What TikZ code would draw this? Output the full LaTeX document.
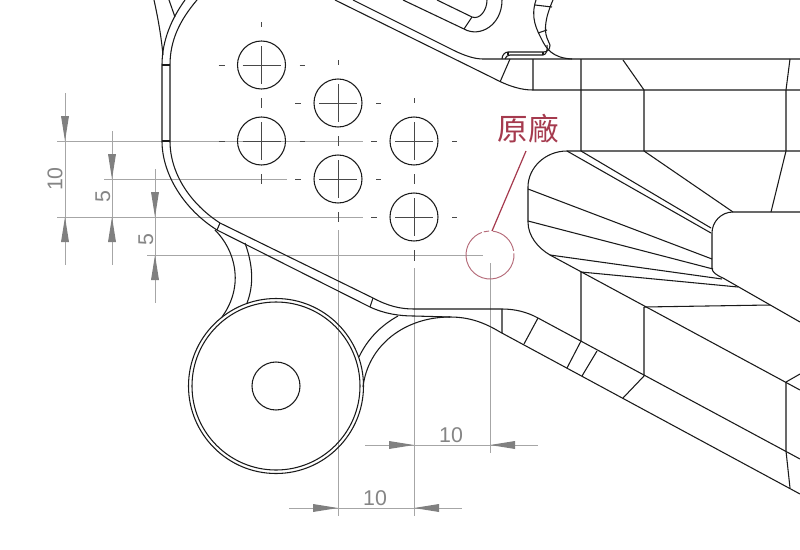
\documentclass[tikz,border=0pt]{standalone}
\usepackage{fontspec}
\setmainfont{Liberation Sans}
\newfontfamily\cjk{Noto Sans CJK TC}
\definecolor{dimline}{HTML}{A6A6A6}
\definecolor{dimfill}{HTML}{808080}
\definecolor{dimtext}{HTML}{858585}
\definecolor{redtext}{HTML}{A53A4E}
\definecolor{redthin}{HTML}{B56A78}
\definecolor{ink}{HTML}{1A1A1A}
\tikzset{
  part/.style={draw=ink,line width=0.8pt,line join=round},
  centre/.style={draw=ink!80,line width=0.55pt},
  extline/.style={draw=dimline,line width=0.75pt},
  head/.style={fill=dimfill,draw=none},
  dimlabel/.style={text=dimtext,font=\fontsize{16}{16}\selectfont,inner sep=0pt},
}
\newcommand{\holeat}[2]{%
  \draw[part] (#1,#2) circle [radius=24];
  \draw[centre] (#1-19,#2) -- (#1+19,#2) (#1,#2-19) -- (#1,#2+19);
  \draw[centre] (#1-43,#2) -- (#1-37,#2) (#1+38,#2) -- (#1+43,#2)
                (#1,#2-43) -- (#1,#2-38) (#1,#2+33) -- (#1,#2+43);
}
\newcommand{\headdown}[2]{\fill[head] (#1-4,#2-25) -- (#1+4,#2-25) -- (#1,#2) -- cycle;}
\newcommand{\headup}[2]{\fill[head] (#1-4,#2+25) -- (#1+4,#2+25) -- (#1,#2) -- cycle;}
\newcommand{\headright}[2]{\fill[head] (#1-25,#2-4) -- (#1-25,#2+4) -- (#1,#2) -- cycle;}
\newcommand{\headleft}[2]{\fill[head] (#1+25,#2-4) -- (#1+25,#2+4) -- (#1,#2) -- cycle;}
\begin{document}
\begin{tikzpicture}[x=0.75pt,y=-0.75pt]
\useasboundingbox (0,0) rectangle (800,550);
\clip (0,0) rectangle (800,550);
\fill[white] (0,0) rectangle (800,550);

% dimension and extension lines
\draw[extline] (57,141) -- (363,141) (57,217) -- (363,217) (104,179) -- (287,179) (147,255) -- (483,255);
\draw[extline] (338,230) -- (338,516) (414,268) -- (414,516) (490,263) -- (490,453);
\draw[extline] (65,93) -- (65,265) (112,131) -- (112,265) (155,169) -- (155,303);
\draw[extline] (365,445) -- (538,445) (289,508) -- (462,508);
\headdown{65}{141} \headup{65}{217}
\headdown{112}{179} \headup{112}{217}
\headdown{155}{217} \headup{155}{255}
\headright{414}{445} \headleft{490}{445}
\headright{338}{508} \headleft{414}{508}
\node[dimlabel,rotate=90] (d1) at (55,179) {10};
\node[dimlabel,rotate=90] (d2) at (103,197) {5};
\node[dimlabel,rotate=90] (d3) at (146,240) {5};
\node[dimlabel] (d4) at (451,435) {10};
\node[dimlabel] (d5) at (375,498) {10};

% holes
\holeat{261.5}{65} \holeat{338}{103} \holeat{261.5}{141}
\holeat{338}{179} \holeat{414}{141} \holeat{414}{217}
\draw[centre] (338,217) -- (338,222) (414,257) -- (414,261);

% boss
\draw[part] (276,386) circle [radius=87.5] (276,386) circle [radius=84] (276,386) circle [radius=24];

% left rail
\draw[part] (162,141) -- (162,65) .. controls (162,40) and (172,18) .. (185,0);
\draw[part] (170,141) -- (170,65) .. controls (170,40) and (180,20) .. (197,0);
\draw[part] (162,65) -- (170,65) (162,141) -- (170,141);
\draw[part] (154,0) .. controls (158,18) and (161,35) .. (163,55);
\draw[part] (169,0) -- (175,17);
\draw[part] (162,141) .. controls (162,175) and (185,210) .. (217,230) -- (370,307)
   .. controls (385,314) and (400,316) .. (414,316) -- (450,317)
   .. controls (470,317) and (485,323) .. (500,332) -- (800,494);
\draw[part] (170,141) .. controls (170,175) and (192,205) .. (220,223) -- (373,298)
   .. controls (388,306) and (400,309) .. (414,309) -- (502,309)
   .. controls (515,309) and (527,312) .. (538,318) -- (800,459);
\draw[part] (220,223) -- (217,230) (373,298) -- (370,307);
\draw[part] (363,387) .. controls (368,345) and (405,317) .. (450,317);
\draw[part] (398,316) .. controls (380,326) and (367,340) .. (359,357);
\draw[part] (215,230) .. controls (235,250) and (245,285) .. (222,317);
\draw[part] (245,243) .. controls (253,265) and (254,285) .. (247,303);

% lower ticks
\draw[part] (502,309) -- (502,333) (538,318) -- (524,344) (581,341) -- (567,368)
  (597,351) -- (582,376) (644,376) -- (623,398);
\draw[part] (581,272) -- (581,341) (644,307) -- (644,376) (786,382) -- (786,451) -- (790,488);

% upper diagonals
\draw[part] (335,0) -- (493,78) .. controls (510,87) and (522,90) .. (533,90) -- (800,90);
\draw[part] (353,0) -- (453,50) .. controls (465,56) and (475,59) .. (483,59) -- (800,59);
\draw[part] (510,59) -- (500,82);
% upper slot
\draw[part] (403,0) -- (464,29) .. controls (480,38) and (502,25) .. (502,0);
\draw[part] (437,0) -- (472,17) .. controls (480,20) and (487,10) .. (487,0);
\draw[part] (472,17) -- (464,29);
% right upper shape
\draw[part] (536,0) .. controls (530,18) and (537,30) .. (542,40) .. controls (546,48) and (552,58) .. (572,59);
\draw[part] (553,0) .. controls (545,18) and (544,30) .. (547,38) -- (550,45);
\draw[part] (535,5) -- (552,7) (538,33) -- (547,30);
% small slot
\draw[part] (502,59) .. controls (502,55) and (505,52) .. (508,52) -- (543,52) .. controls (547,52) and (550,50) .. (550,45);
\draw[part] (505,59) .. controls (505,57) and (508,55) .. (510,55) -- (543,55) .. controls (546,55) and (548,50) .. (547,45);
\draw[part] (543,52) -- (543,55) (508,52) -- (508,55);

% block lines
\draw[part] (533,59) -- (533,90) (581,59) -- (581,151) (623,60) -- (644,90) -- (644,151);
\draw[part] (790,59) -- (786,90) -- (786,151) -- (771,212);
\draw[part] (800,151) -- (567,151) .. controls (545,151) and (528,168) .. (528,187) -- (528,222)
  .. controls (528,236) and (538,248) .. (550,255) -- (800,390);
\draw[part] (800,212) -- (733,212) .. controls (721,212) and (712,222) .. (712,233) -- (712,268)
  .. controls (712,272) and (716,275) .. (723,278) -- (800,322);
\draw[part] (581,151) -- (711,228) (567,151) -- (711,233) (644,151) -- (733,212);
\draw[part] (528,189) -- (712,259) (528,221) -- (713,269) (550,255) -- (722,279)
  (581,272) -- (738,287) (644,307) -- (770,305) (786,382) -- (800,374);

% red note
\node[text=redtext,font=\cjk\fontsize{23}{23}\selectfont,inner sep=0pt] (note) at (528,129) {原廠};
\coordinate (leadA) at (526,151);
\coordinate (leadB) at (492,231);
\draw[redtext,line width=0.9pt] (leadA) -- (leadB);
\draw[redthin,line width=0.7pt] (490,255) ++(-83:24) arc[start angle=-83,end angle=-10,radius=24];
\draw[redthin,line width=0.7pt] (490,255) ++(-4:24) arc[start angle=-4,end angle=250,radius=24];
\draw[redthin,line width=0.7pt] (490,255) ++(-105:24) arc[start angle=-105,end angle=-92,radius=24];
\end{tikzpicture}
\end{document}
